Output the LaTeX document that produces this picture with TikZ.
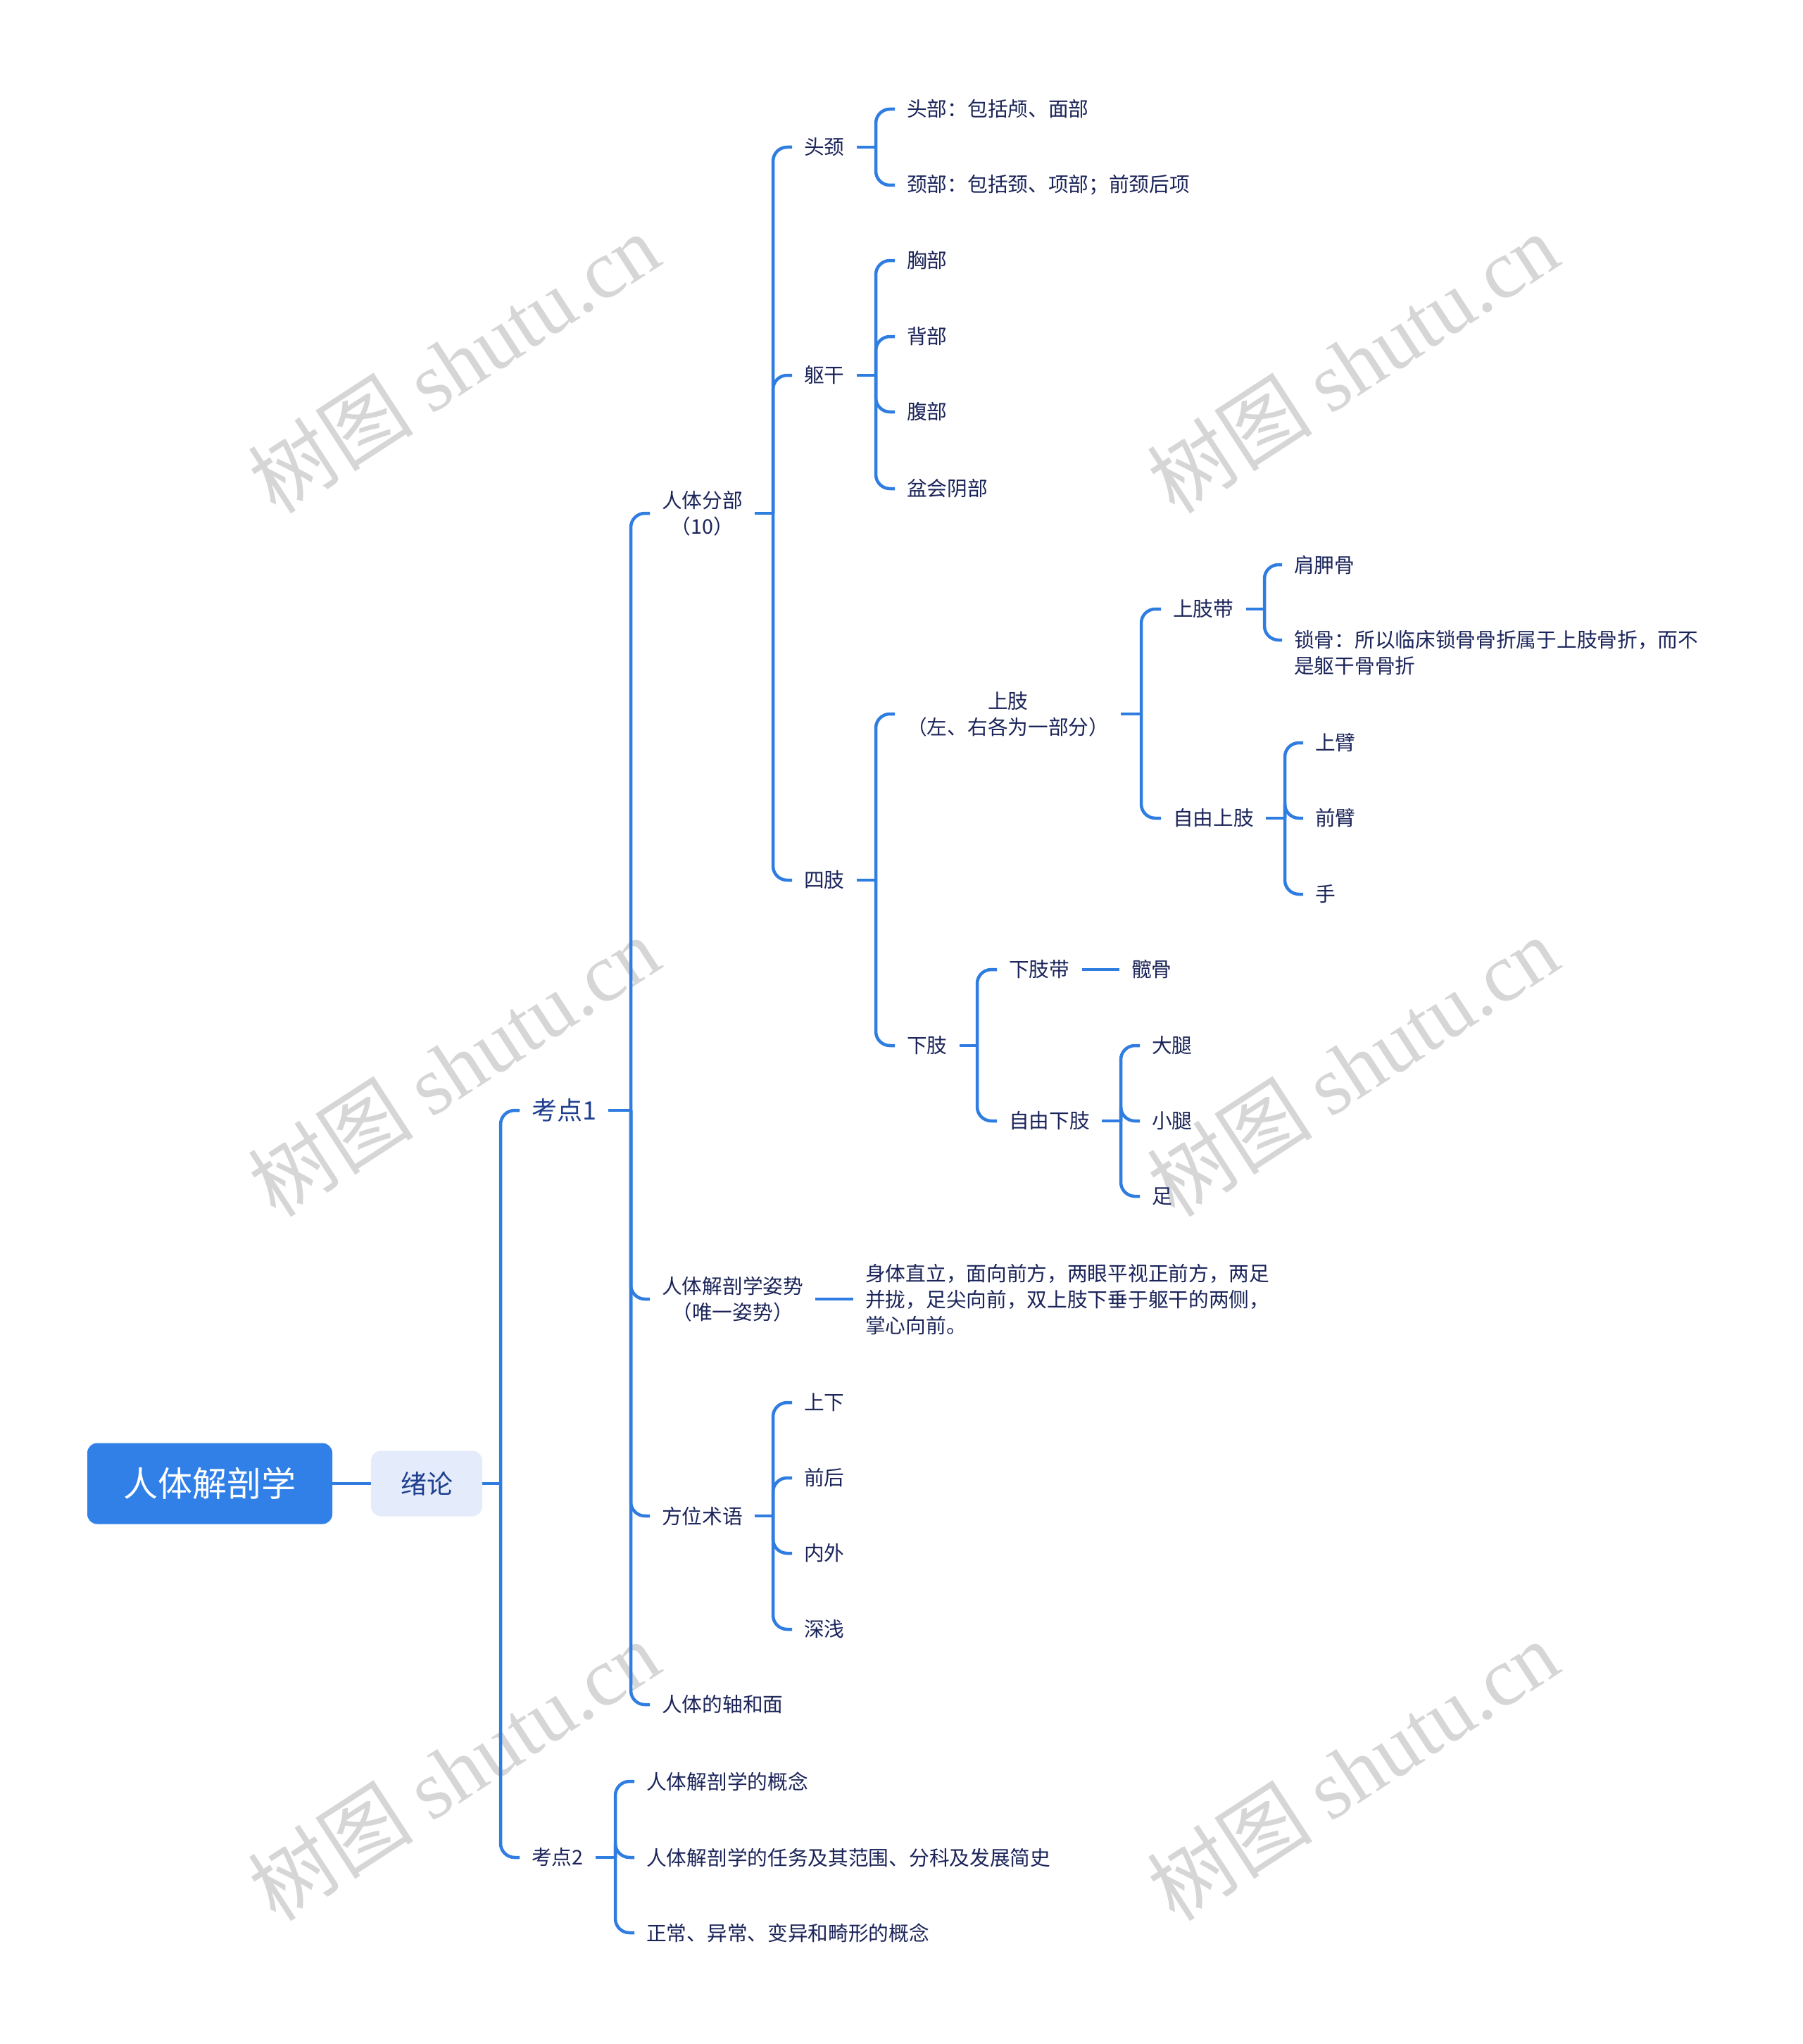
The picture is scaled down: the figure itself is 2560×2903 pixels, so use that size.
\documentclass[tikz,border=0pt]{standalone}
\usepackage{fontspec}
\setmainfont{Noto Sans CJK SC}
\newfontfamily\wmlatin{Liberation Serif}
\usetikzlibrary{positioning}

\definecolor{linkblue}{HTML}{2F7DE1}
\definecolor{rootblue}{HTML}{3180E8}
\definecolor{topicfill}{HTML}{E4ECFB}
\definecolor{topicink}{HTML}{1F3F8F}
\definecolor{inknavy}{HTML}{1B2459}
\definecolor{wmgray}{HTML}{D6D6D6}

\begin{document}
\begin{tikzpicture}[x=1pt, y=-1pt,
    rootbox/.style={rectangle, rounded corners=14pt, fill=rootblue, text=white, minimum width=348pt, minimum height=115pt, font=\fontsize{49}{56}\selectfont},
    topicbox/.style={rectangle, rounded corners=14pt, fill=topicfill, text=topicink, minimum width=158pt, minimum height=93pt, font=\fontsize{37}{44}\selectfont},
    leaf/.style={anchor=west, inner xsep=17pt, inner ysep=4pt, text=inknavy, align=left, font=\fontsize{28.7}{37}\selectfont},
    bigleaf/.style={leaf, text=topicink, font=\fontsize{36}{44}\selectfont},
    link/.style={draw=linkblue, line width=4.5pt, rounded corners=20pt},
    wmark/.style={text=wmgray, rotate=33, font=\fontsize{118}{130}\selectfont}
]
\useasboundingbox (0,0) rectangle (2560,2903);

% watermarks
\foreach \wx/\wy [count=\i] in {644/515, 1921/515, 644/1514, 1921/1514, 644/2514, 1921/2514}
    \node[wmark] (wm\i) at (\wx,\wy) {树图 {\wmlatin shutu.cn}};

% root and first level
\node[rootbox] (root) at (298,2107) {人体解剖学};
\node[topicbox] (xl) at (606,2107) {绪论};
\node[bigleaf] (kd1) at (738,1577) {考点1};
\node[leaf] (kd2) at (738,2638) {考点2};

% 考点1
\node[leaf, align=center] (fb) at (923,729) {人体分部\\（10）};
\node[leaf, align=center] (zs) at (923,1845) {人体解剖学姿势\\（唯一姿势）};
\node[leaf] (fw) at (923,2153) {方位术语};
\node[leaf] (zm) at (923,2421) {人体的轴和面};

% 人体分部
\node[leaf] (tj) at (1125,209) {头颈};
\node[leaf] (qg) at (1125,533) {躯干};
\node[leaf] (sz) at (1125,1250) {四肢};

\node[leaf] (tb) at (1271,155) {头部：包括颅、面部};
\node[leaf] (jb) at (1271,263) {颈部：包括颈、项部；前颈后项};

\node[leaf] (xb) at (1271,370) {胸部};
\node[leaf] (bb) at (1271,478) {背部};
\node[leaf] (fub) at (1271,585) {腹部};
\node[leaf] (ph) at (1271,694) {盆会阴部};

\node[leaf, align=center] (upl) at (1271,1014) {上肢\\（左、右各为一部分）};
\node[leaf] (lowl) at (1271,1485) {下肢};

\node[leaf] (sdd) at (1649,865) {上肢带};
\node[leaf] (zysz) at (1649,1162) {自由上肢};
\node[leaf] (jjg) at (1821,802) {肩胛骨};
\node[leaf] (sg) at (1821,927.5) {锁骨：所以临床锁骨骨折属于上肢骨折，而不\\是躯干骨骨折};
\node[leaf] (sb) at (1851,1055) {上臂};
\node[leaf] (qb) at (1851,1162) {前臂};
\node[leaf] (sh) at (1851,1270) {手};

\node[leaf] (xzd) at (1416,1377) {下肢带};
\node[leaf] (kg) at (1590,1377) {髋骨};
\node[leaf] (zyxz) at (1416,1592) {自由下肢};
\node[leaf] (dt) at (1619,1485) {大腿};
\node[leaf] (xt) at (1619,1592) {小腿};
\node[leaf] (zu) at (1619,1699) {足};

% 姿势, 方位术语
\node[leaf] (desc) at (1212,1845) {身体直立，面向前方，两眼平视正前方，两足\\并拢，足尖向前，双上肢下垂于躯干的两侧，\\掌心向前。};
\node[leaf] (sx) at (1125,1992) {上下};
\node[leaf] (qh) at (1125,2099) {前后};
\node[leaf] (nw) at (1125,2206) {内外};
\node[leaf] (sq) at (1125,2314) {深浅};

% 考点2
\node[leaf] (k2a) at (901,2530) {人体解剖学的概念};
\node[leaf] (k2b) at (901,2638) {人体解剖学的任务及其范围、分科及发展简史};
\node[leaf] (k2c) at (901,2745) {正常、异常、变异和畸形的概念};

% joints
\coordinate (jxl) at (xl.east -| 711,0);
\coordinate (jkd1) at (kd1.east -| 896,0);
\coordinate (jfb) at (fb.east -| 1098,0);
\coordinate (jtj) at (tj.east -| 1244,0);
\coordinate (jqg) at (qg.east -| 1244,0);
\coordinate (jsz) at (sz.east -| 1244,0);
\coordinate (jupl) at (upl.east -| 1621,0);
\coordinate (jsdd) at (sdd.east -| 1796,0);
\coordinate (jzysz) at (zysz.east -| 1825,0);
\coordinate (jlowl) at (lowl.east -| 1388,0);
\coordinate (jzyxz) at (zyxz.east -| 1592,0);
\coordinate (jfw) at (fw.east -| 1098,0);
\coordinate (jkd2) at (kd2.east -| 874,0);

% connectors
\draw[link] (root) -- (xl);
\draw[link] (xl.east) -- (jxl);
\foreach \c in {kd1,kd2} \draw[link] (jxl) |- (\c.west);

\draw[link] (kd1.east) -- (jkd1);
\foreach \c in {fb,zs,fw,zm} \draw[link] (jkd1) |- (\c.west);

\draw[link] (fb.east) -- (jfb);
\foreach \c in {tj,qg,sz} \draw[link] (jfb) |- (\c.west);

\draw[link] (tj.east) -- (jtj);
\foreach \c in {tb,jb} \draw[link] (jtj) |- (\c.west);

\draw[link] (qg.east) -- (jqg);
\foreach \c in {xb,bb,fub,ph} \draw[link] (jqg) |- (\c.west);

\draw[link] (sz.east) -- (jsz);
\foreach \c in {upl,lowl} \draw[link] (jsz) |- (\c.west);

\draw[link] (upl.east) -- (jupl);
\foreach \c in {sdd,zysz} \draw[link] (jupl) |- (\c.west);

\draw[link] (sdd.east) -- (jsdd);
\draw[link] (jsdd) |- (jjg.west);
\draw[link] (jsdd) |- ([yshift=18.5pt]sg.west);

\draw[link] (zysz.east) -- (jzysz);
\foreach \c in {sb,qb,sh} \draw[link] (jzysz) |- (\c.west);

\draw[link] (lowl.east) -- (jlowl);
\foreach \c in {xzd,zyxz} \draw[link] (jlowl) |- (\c.west);
\draw[link] (xzd) -- (kg);

\draw[link] (zyxz.east) -- (jzyxz);
\foreach \c in {dt,xt,zu} \draw[link] (jzyxz) |- (\c.west);

\draw[link] (zs) -- (desc);

\draw[link] (fw.east) -- (jfw);
\foreach \c in {sx,qh,nw,sq} \draw[link] (jfw) |- (\c.west);

\draw[link] (kd2.east) -- (jkd2);
\foreach \c in {k2a,k2b,k2c} \draw[link] (jkd2) |- (\c.west);

\end{tikzpicture}
\end{document}
